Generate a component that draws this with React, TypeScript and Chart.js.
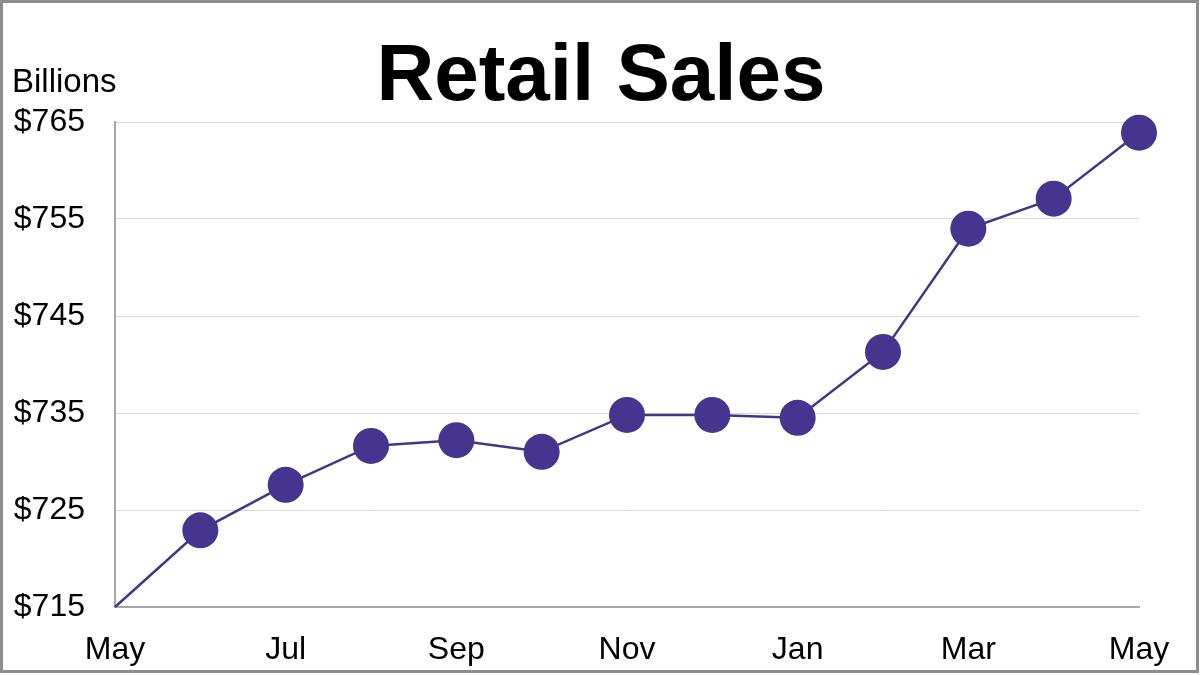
import React, { useEffect, useRef } from "react";
import { Chart, registerables } from "chart.js";

Chart.register(...registerables);

const months = ["May", "Jun", "Jul", "Aug", "Sep", "Oct", "Nov", "Dec", "Jan", "Feb", "Mar", "Apr", "May"];
const sales = [715, 722.9, 727.6, 731.6, 732.2, 731.0, 734.8, 734.8, 734.5, 741.3, 754.0, 757.1, 763.9];
const markerSizes = [0, 18, 18, 18, 18, 18, 18, 18, 18, 18, 18, 18, 18];
const yTicks = [715, 725, 735, 745, 755, 765];
const titleText = "Retail Sales";
const unitText = "Billions";

const FONT = "'Liberation Sans', Arial, sans-serif";

export default function App() {
  const ref = useRef<HTMLCanvasElement | null>(null);

  useEffect(() => {
    document.body.style.margin = "0";
    const canvas = ref.current;
    if (!canvas) return;

    const decor = {
      id: "decor",
      afterDraw(chart: any) {
        const ctx = chart.ctx;
        ctx.save();
        ctx.fillStyle = "#000";
        ctx.textAlign = "center";
        ctx.textBaseline = "alphabetic";
        ctx.font = `bold 80px ${FONT}`;
        ctx.fillText(titleText, 601, 100);
        ctx.textAlign = "left";
        ctx.font = `33px ${FONT}`;
        ctx.fillText(unitText, 12, 92);
        ctx.strokeStyle = "#8c8c8c";
        ctx.lineWidth = 3;
        ctx.strokeRect(1.5, 1.5, 1196, 670);
        ctx.restore();
      },
    };

    const chart = new Chart(canvas, {
      type: "line",
      data: {
        labels: months,
        datasets: [
          {
            data: sales,
            borderColor: "#46348c",
            backgroundColor: "#46348c",
            borderWidth: 2.5,
            pointRadius: markerSizes,
            pointHoverRadius: markerSizes,
            pointBackgroundColor: "#46358f",
            pointBorderWidth: 0,
            tension: 0,
            clip: false,
          } as any,
        ],
      },
      options: {
        animation: false,
        responsive: false,
        layout: { padding: { top: 122, left: 13, right: 61, bottom: 0 } },
        plugins: { legend: { display: false }, title: { display: false }, tooltip: { enabled: false } },
        scales: {
          x: {
            offset: false,
            grid: { display: false, drawTicks: false },
            border: { display: true, color: "#a6a6a6", width: 2 },
            afterFit: (s: any) => { s.height = 68; },
            ticks: {
              padding: 24,
              color: "#000",
              font: { family: FONT, size: 32 },
              maxRotation: 0,
              autoSkip: false,
              callback: (_v: any, i: number) => (i % 2 === 0 ? months[i] : ""),
            },
          },
          y: {
            min: 715,
            max: 765,
            afterBuildTicks: (s: any) => { s.ticks = yTicks.map((v) => ({ value: v })); },
            afterFit: (s: any) => { s.width = 102; },
            grid: { color: "#d9d9d9", lineWidth: 1, drawTicks: false },
            border: { display: true, color: "#a6a6a6", width: 2 },
            ticks: {
              padding: 30,
              color: "#000",
              font: { family: FONT, size: 32 },
              callback: (v: any) => "$" + v,
            },
          },
        },
      },
      plugins: [decor],
    });
    return () => chart.destroy();
  }, []);

  return (
    <div style={{ width: 1200, height: 675, background: "#fff" }}>
      <canvas ref={ref} width={1200} height={675} style={{ display: "block" }} />
    </div>
  );
}
